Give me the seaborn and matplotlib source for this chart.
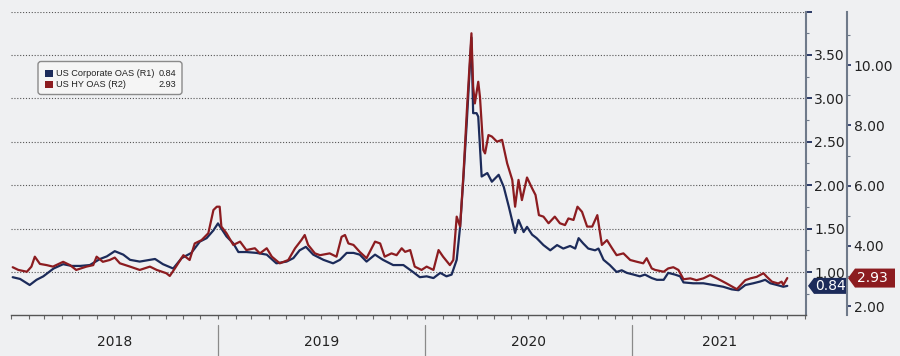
import matplotlib
matplotlib.use('Agg')
import matplotlib.pyplot as plt
import matplotlib.dates as mdates
import matplotlib.transforms as mtransforms
from matplotlib.patches import Polygon, FancyBboxPatch, Rectangle
from matplotlib.lines import Line2D
from matplotlib.ticker import FuncFormatter, NullFormatter
import seaborn as sns
import pandas as pd

# ---------------- data ----------------
corp_dates = [
    "2018-01-04", "2018-01-17", "2018-02-03", "2018-02-15", "2018-02-27", "2018-03-17",
    "2018-04-03", "2018-04-18", "2018-05-03", "2018-05-20", "2018-06-07", "2018-06-19",
    "2018-07-03", "2018-07-18", "2018-07-30", "2018-08-16", "2018-09-03", "2018-09-12",
    "2018-09-26", "2018-10-14", "2018-10-29", "2018-11-15", "2018-11-30", "2018-12-12",
    "2018-12-24", "2019-01-01", "2019-01-07", "2019-01-16", "2019-01-28", "2019-02-06",
    "2019-02-20", "2019-03-10", "2019-03-28", "2019-04-14", "2019-05-02", "2019-05-14",
    "2019-05-25", "2019-06-05", "2019-06-18", "2019-07-06", "2019-07-23", "2019-08-04",
    "2019-08-16", "2019-08-28", "2019-09-08", "2019-09-20", "2019-10-05", "2019-10-19",
    "2019-11-06", "2019-11-24", "2019-12-11", "2019-12-23", "2020-01-04", "2020-01-16",
    "2020-01-28", "2020-02-08", "2020-02-17", "2020-02-26", "2020-03-03", "2020-03-09",
    "2020-03-15", "2020-03-23", "2020-03-26", "2020-04-01", "2020-04-04", "2020-04-10",
    "2020-04-20", "2020-04-28", "2020-05-10", "2020-05-19", "2020-05-28", "2020-06-08",
    "2020-06-14", "2020-06-23", "2020-06-29", "2020-07-08", "2020-07-16", "2020-07-28",
    "2020-08-09", "2020-08-21", "2020-09-01", "2020-09-13", "2020-09-22", "2020-09-28",
    "2020-10-06", "2020-10-15", "2020-10-27", "2020-11-02", "2020-11-11", "2020-11-22",
    "2020-12-04", "2020-12-13", "2020-12-22", "2021-01-03", "2021-01-14", "2021-01-23",
    "2021-02-04", "2021-02-13", "2021-02-25", "2021-03-05", "2021-03-17", "2021-03-26",
    "2021-04-01", "2021-04-18", "2021-05-06", "2021-05-24", "2021-06-10", "2021-06-25",
    "2021-07-07", "2021-07-19", "2021-08-02", "2021-08-14", "2021-08-23", "2021-09-01",
    "2021-09-13", "2021-09-24", "2021-10-01",
]
corp_oas = [
    0.94, 0.92, 0.85, 0.91, 0.95, 1.04,
    1.09, 1.07, 1.07, 1.08, 1.15, 1.18,
    1.24, 1.20, 1.14, 1.12, 1.14, 1.15,
    1.09, 1.04, 1.16, 1.22, 1.35, 1.39,
    1.48, 1.56, 1.50, 1.41, 1.33, 1.23,
    1.23, 1.22, 1.20, 1.10, 1.12, 1.16,
    1.25, 1.29, 1.20, 1.14, 1.10, 1.14,
    1.22, 1.22, 1.20, 1.12, 1.20, 1.14,
    1.08, 1.08, 1.00, 0.94, 0.95, 0.93,
    0.99, 0.95, 0.97, 1.14, 1.52, 2.10,
    2.75, 3.70, 2.83, 2.83, 2.79, 2.10,
    2.14, 2.04, 2.12, 1.98, 1.75, 1.45,
    1.60, 1.46, 1.52, 1.43, 1.39, 1.31,
    1.25, 1.31, 1.27, 1.30, 1.27, 1.39,
    1.33, 1.27, 1.25, 1.27, 1.14, 1.08,
    1.00, 1.02, 0.99, 0.97, 0.95, 0.97,
    0.93, 0.91, 0.91, 0.99, 0.97, 0.95,
    0.88, 0.87, 0.87, 0.85, 0.83, 0.80,
    0.79, 0.85, 0.87, 0.89, 0.91, 0.87,
    0.85, 0.83, 0.84,
]

hy_dates = [
    "2018-01-04", "2018-01-14", "2018-01-29", "2018-02-06", "2018-02-12", "2018-02-21",
    "2018-03-05", "2018-03-16", "2018-04-03", "2018-04-15", "2018-04-26", "2018-05-14",
    "2018-05-26", "2018-06-01", "2018-06-12", "2018-06-24", "2018-07-03", "2018-07-12",
    "2018-07-30", "2018-08-16", "2018-09-03", "2018-09-15", "2018-10-02", "2018-10-08",
    "2018-10-17", "2018-11-01", "2018-11-12", "2018-11-21", "2018-12-03", "2018-12-15",
    "2018-12-24", "2018-12-30", "2019-01-04", "2019-01-07", "2019-01-16", "2019-01-28",
    "2019-02-09", "2019-02-20", "2019-03-07", "2019-03-16", "2019-03-28", "2019-04-06",
    "2019-04-20", "2019-05-05", "2019-05-17", "2019-05-28", "2019-06-03", "2019-06-09",
    "2019-06-21", "2019-06-30", "2019-07-17", "2019-07-29", "2019-08-07", "2019-08-13",
    "2019-08-19", "2019-08-28", "2019-09-08", "2019-09-20", "2019-10-05", "2019-10-14",
    "2019-10-22", "2019-11-03", "2019-11-12", "2019-11-21", "2019-11-27", "2019-12-06",
    "2019-12-14", "2019-12-26", "2020-01-04", "2020-01-16", "2020-01-25", "2020-02-02",
    "2020-02-14", "2020-02-20", "2020-02-26", "2020-03-03", "2020-03-09", "2020-03-15",
    "2020-03-23", "2020-03-26", "2020-03-29", "2020-04-04", "2020-04-07", "2020-04-13",
    "2020-04-16", "2020-04-22", "2020-04-28", "2020-05-07", "2020-05-16", "2020-05-25",
    "2020-06-03", "2020-06-08", "2020-06-14", "2020-06-20", "2020-06-29", "2020-07-08",
    "2020-07-14", "2020-07-20", "2020-07-28", "2020-08-06", "2020-08-17", "2020-08-26",
    "2020-09-04", "2020-09-10", "2020-09-19", "2020-09-26", "2020-10-04", "2020-10-13",
    "2020-10-22", "2020-10-31", "2020-11-08", "2020-11-17", "2020-11-26", "2020-12-04",
    "2020-12-16", "2020-12-28", "2021-01-09", "2021-01-20", "2021-01-26", "2021-02-04",
    "2021-02-10", "2021-02-25", "2021-03-05", "2021-03-14", "2021-03-23", "2021-04-01",
    "2021-04-13", "2021-04-24", "2021-05-06", "2021-05-18", "2021-05-30", "2021-06-16",
    "2021-07-04", "2021-07-19", "2021-07-28", "2021-08-08", "2021-08-20", "2021-08-26",
    "2021-09-04", "2021-09-15", "2021-09-21", "2021-09-24", "2021-10-01",
]
hy_oas = [
    3.29, 3.20, 3.14, 3.31, 3.64, 3.40,
    3.36, 3.31, 3.47, 3.36, 3.20, 3.31,
    3.36, 3.64, 3.47, 3.53, 3.61, 3.42,
    3.31, 3.20, 3.31, 3.20, 3.09, 3.00,
    3.25, 3.69, 3.53, 4.08, 4.19, 4.42,
    5.19, 5.30, 5.30, 4.64, 4.42, 4.03,
    4.14, 3.86, 3.92, 3.75, 3.92, 3.64,
    3.42, 3.53, 3.92, 4.19, 4.36, 4.03,
    3.75, 3.69, 3.75, 3.64, 4.30, 4.36,
    4.08, 4.03, 3.80, 3.59, 4.14, 4.08,
    3.64, 3.75, 3.69, 3.92, 3.80, 3.86,
    3.31, 3.20, 3.31, 3.20, 3.86, 3.64,
    3.36, 3.53, 4.97, 4.64, 6.41, 8.51,
    11.06, 9.29, 8.73, 9.45, 8.95, 7.18,
    7.07, 7.68, 7.63, 7.46, 7.52, 6.74,
    6.19, 5.30, 6.19, 5.52, 6.27, 5.91,
    5.69, 5.02, 4.97, 4.75, 4.97, 4.75,
    4.69, 4.91, 4.86, 5.30, 5.13, 4.64,
    4.64, 5.02, 4.03, 4.19, 3.92, 3.69,
    3.75, 3.53, 3.47, 3.42, 3.59, 3.25,
    3.20, 3.14, 3.25, 3.29, 3.20, 2.89,
    2.92, 2.86, 2.92, 3.03, 2.92, 2.75,
    2.56, 2.86, 2.92, 2.97, 3.09, 2.97,
    2.81, 2.75, 2.81, 2.70, 2.93,
]

years = ["2018", "2019", "2020", "2021"]
series_names = ["US Corporate OAS (R1)", "US HY OAS (R2)"]
r1_major = [1.0, 1.5, 2.0, 2.5, 3.0, 3.5, 4.0]
r1_minor = [0.75, 1.25, 1.75, 2.25, 2.75, 3.25, 3.75]
r2_major = [2, 4, 6, 8, 10]
r2_minor = [3, 5, 7, 9, 11]

# ---------------- style ----------------
sns.set_theme(style="white")
plt.rcParams["font.family"] = ["DejaVu Sans"]

BG = "#eff0f2"
NAVY = "#1c2b5a"
RED = "#8c1c20"
AXC = "#6f7a8a"
TXT = "#222222"

W, H = 900, 356
fig = plt.figure(figsize=(W / 100, H / 100), dpi=100, facecolor=BG)
ax = fig.add_axes([11 / W, 1 - 315.4 / H, 795 / W, 303.8 / H])
ax.set_facecolor(BG)
ax2 = ax.twinx()

corp = pd.DataFrame({"date": pd.to_datetime(corp_dates), "oas": corp_oas})
hy = pd.DataFrame({"date": pd.to_datetime(hy_dates), "oas": hy_oas})

sns.lineplot(data=corp, x="date", y="oas", ax=ax, color=NAVY, lw=1.6, estimator=None)
sns.lineplot(data=hy, x="date", y="oas", ax=ax2, color=RED, lw=1.6, estimator=None)

for a in (ax, ax2):
    a.set_xlabel("")
    a.set_ylabel("")

ax.set_xlim(pd.Timestamp("2018-01-01"), pd.Timestamp("2021-11-03"))
ax.set_ylim(0.5, 4.0)
ax2.set_ylim(1.69, 11.78)

# spines
for s in ("left", "top"):
    ax.spines[s].set_visible(False)
ax.spines["right"].set_color(AXC)
ax.spines["right"].set_linewidth(1.5)
ax.spines["bottom"].set_color("#555555")
ax.spines["bottom"].set_linewidth(1.0)
for s in ("left", "top", "bottom"):
    ax2.spines[s].set_visible(False)
ax2.spines["right"].set_position(("axes", 1 + 40.7 / 795))
ax2.spines["right"].set_color(AXC)
ax2.spines["right"].set_linewidth(1.5)

# R1 axis
ax.yaxis.tick_right()
ax.set_yticks(r1_major)
ax.set_yticks(r1_minor, minor=True)
ax.yaxis.set_major_formatter(FuncFormatter(lambda v, p: "" if v > 3.99 else f"{v:.2f}"))
ax.tick_params(axis="y", which="major", left=False, right=True, labelleft=False,
               labelright=True, length=4, width=1.3, color=NAVY, pad=2,
               labelsize=10, labelcolor=TXT)
ax.tick_params(axis="y", which="minor", left=False, right=True, length=2,
               width=0.8, color=AXC)
ax.grid(axis="y", which="major", linestyle=(0, (1, 1.6)), color="#555555", lw=0.8)
ax.grid(axis="x", visible=False)
ax.set_axisbelow(True)

# R2 axis
ax2.set_yticks(r2_major)
ax2.set_yticks(r2_minor, minor=True)
ax2.yaxis.set_major_formatter(FuncFormatter(lambda v, p: f"{v:.2f}"))
ax2.tick_params(axis="y", which="major", length=3, width=1.2, color=NAVY, pad=2,
                labelsize=10, labelcolor=TXT)
ax2.tick_params(axis="y", which="minor", length=2, width=0.8, color=AXC)
ax2.grid(False)

# x axis: monthly ticks, year labels below with separators
ax.xaxis.set_major_locator(mdates.MonthLocator())
ax.xaxis.set_major_formatter(NullFormatter())
ax.tick_params(axis="x", which="major", bottom=True, length=3, width=0.8,
               color="#666666", direction="out")

trans = mtransforms.blended_transform_factory(ax.transData, ax.transAxes)
xmin, xmax = ax.get_xlim()
for i, yr in enumerate(years):
    start = mdates.date2num(pd.Timestamp(f"{yr}-01-01"))
    end = min(mdates.date2num(pd.Timestamp(f"{int(yr) + 1}-01-01")), xmax)
    ax.text((start + end) / 2, -0.088, yr, transform=trans, ha="center", va="center",
            fontsize=10, color=TXT)
    if i > 0:
        ax.add_line(Line2D([start, start], [-0.032, -0.14], transform=trans,
                           color="#8a8a8a", lw=0.9, clip_on=False))

# last-value tags
fig.canvas.draw()
ident = mtransforms.IdentityTransform()
y1 = ax.transData.transform((xmin, corp_oas[-1]))[1]
y2 = ax2.transData.transform((xmin, hy_oas[-1]))[1]
fig.add_artist(Polygon([(808, y1), (814, y1 + 8), (846, y1 + 8), (846, y1 - 8), (814, y1 - 8)],
                       closed=True, transform=ident, fc=NAVY, ec="none"))
fig.text(830 / W, y1 / H, f"{corp_oas[-1]:.2f}", ha="center", va="center",
         color="white", fontsize=10)
fig.add_artist(Polygon([(848, y2), (855, y2 + 9.5), (895, y2 + 9.5), (895, y2 - 9.5), (855, y2 - 9.5)],
                       closed=True, transform=ident, fc=RED, ec="none"))
fig.text(872 / W, y2 / H, f"{hy_oas[-1]:.2f}", ha="center", va="center",
         color="white", fontsize=10)

# legend box
fig.add_artist(FancyBboxPatch((38, H - 94.5), 144, 33, boxstyle="round,pad=0,rounding_size=3",
                              transform=ident, fc="#f5f5f5", ec="#8a8a8a", lw=1.0))
rows = [(73.3, NAVY, series_names[0], corp_oas[-1]), (84.5, RED, series_names[1], hy_oas[-1])]
for yc, col, name, val in rows:
    fig.add_artist(Rectangle((45, H - yc - 3.7), 7.5, 7.5, transform=ident, fc=col, ec="none"))
    fig.text(55.5 / W, 1 - yc / H, name, ha="left", va="center", fontsize=6.6,
             family=["Liberation Sans", "DejaVu Sans"], color=TXT)
    fig.text(176 / W, 1 - yc / H, f"{val:.2f}", ha="right", va="center", fontsize=6.6,
             family=["Liberation Sans", "DejaVu Sans"], color=TXT)

fig.savefig("out.png", dpi=100, facecolor=BG)
